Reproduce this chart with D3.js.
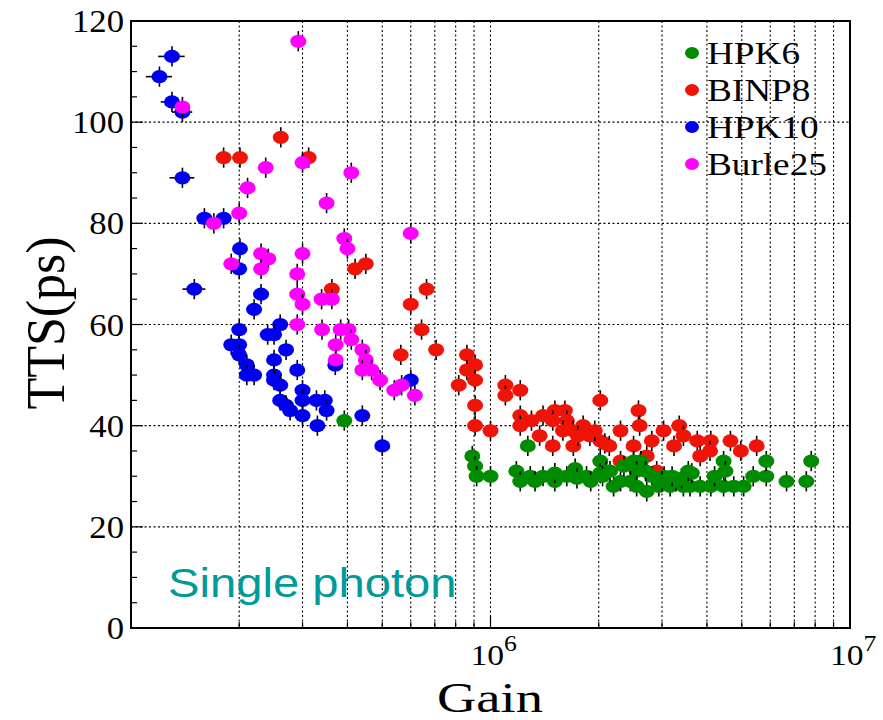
<!DOCTYPE html>
<html>
<head>
<meta charset="utf-8">
<script src="https://cdn.jsdelivr.net/npm/d3@7"></script>
<style>
  body { margin: 0; background: #fff; }
  svg { display: block; }
</style>
</head>
<body>
<svg id="chart" width="883" height="720"></svg>
<script>
// series data: [gain, TTS in ps, optional gain error]
var seriesNames = ["HPK6", "BINP8", "HPK10", "Burle25"];
var seriesColors = ["#008c00", "#f01408", "#0000f0", "#ff00ff"];

var hpk6 = [
  [3.92e5,41],[8.9e5,34],[9.06e5,32],[9.15e5,30],[1.0e6,30],[1.27e6,36],[1.18e6,31],[1.21e6,29],
  [1.29e6,30],[1.40e6,30],[1.51e6,29],[1.63e6,30],[1.72e6,31.5],[1.74e6,29.6],[1.85e6,30],[2.02e6,33],
  [2.02e6,30.6],[1.51e6,30.6],[2.1e6,31],[2.2e6,28],[2.3e6,29],[2.5e6,33],[2.62e6,33],[2.55e6,31],
  [2.45e6,29],[2.55e6,28],[2.72e6,27],[2.81e6,30],[2.94e6,28],[3.04e6,30],[3.44e6,28],[3.59e6,28],
  [3.83e6,28],[4.1e6,28],[4.45e6,28],[4.75e6,28],[5.06e6,28],[3.4e6,29.6],[3.63e6,30.6],[3.55e6,31],
  [4.45e6,33],[4.5e6,31],[4.2e6,30],[5.38e6,30],[5.85e6,30],[5.85e6,33],[6.66e6,29],[7.56e6,29],
  [7.8e6,33],[3.16e6,28],[3.28e6,29],[2.05e6,30],[2.15e6,31],[1.9e6,29],[1.33e6,29],[2.35e6,32],
  [2.7e6,31],[3.0e6,29],[3.2e6,30]
];
var binp8 = [
  [2.61e5,97],[1.81e5,93],[2.01e5,93],[3.12e5,93],[4.2e5,71],[4.5e5,72],[3.62e5,67],[6.64e5,67],
  [6.0e5,64],[6.43e5,59],[7.06e5,55],[5.63e5,54],[8.6e5,54],[9.06e5,52],[8.6e5,51],[9.06e5,49],
  [8.16e5,48],[9.06e5,44],[9.06e5,40],[1.0e6,39],[1.1e6,48],[1.1e6,46],[1.21e6,47],[2.02e6,45],
  [1.21e6,42],[1.21e6,40],[1.30e6,41],[1.40e6,42],[1.51e6,43],[1.61e6,43],[1.49e6,41],[1.63e6,41],
  [1.37e6,38],[1.49e6,36],[1.59e6,39],[1.70e6,39],[1.81e6,40],[1.70e6,36],[1.89e6,38],[2.02e6,37],
  [2.08e6,36.5],[2.14e6,36],[2.3e6,39],[2.58e6,43],[2.5e6,36],[2.3e6,33],[2.6e6,40],[3.03e6,39],
  [3.35e6,40],[3.44e6,38],[2.81e6,37],[3.76e6,37],[4.1e6,37],[4.65e6,37],[3.24e6,36],[4.08e6,35],
  [4.97e6,35],[5.5e6,36],[3.83e6,34],[2.72e6,34],[2.9e6,31],[1.75e6,38],[1.95e6,39]
];
var hpk10 = [
  [1.30e5,113,1.1e4],[1.20e5,109,1.0e4],[1.30e5,104,0.9e4],[1.39e5,102,0.9e4],[1.39e5,89,1.1e4],
  [1.50e5,67,1.1e4],[1.60e5,81],[1.81e5,81],[2.01e5,75],[2.0e5,71],[2.3e5,66],[2.2e5,63],[2.0e5,59],
  [2.6e5,60],[2.4e5,58],[2.5e5,58],[1.9e5,56],[2.0e5,56],[2.0e5,54],[2.1e5,52],[2.1e5,50],[2.2e5,50],
  [2.7e5,55],[2.5e5,53],[2.5e5,50],[2.5e5,49],[2.6e5,48],[2.9e5,51],[2.6e5,45],[2.7e5,44],[2.77e5,43],
  [3.0e5,47],[3.0e5,45],[3.0e5,42],[3.28e5,45],[3.46e5,45],[3.5e5,43],[3.3e5,40],[3.7e5,52],
  [4.4e5,42],[5.0e5,36],[6.0e5,49]
];
var burle25 = [
  [2.92e5,116],[1.39e5,103],[2.37e5,91],[3.0e5,92],[4.1e5,90],[2.11e5,87],[3.5e5,84],[2.0e5,82],
  [1.70e5,80],[3.92e5,77],[4.0e5,75],[6.0e5,78],[1.9e5,72],[2.3e5,74],[2.41e5,73],[2.3e5,71],
  [3.0e5,74],[2.9e5,70],[2.9e5,66],[3.0e5,64],[3.39e5,65],[3.62e5,65],[2.9e5,60],[3.4e5,59],
  [3.83e5,59],[4.03e5,59],[4.1e5,57],[3.71e5,56],[4.4e5,55],[4.5e5,53],[3.71e5,53],[4.4e5,51],
  [4.67e5,51],[4.93e5,49],[5.4e5,47],[5.66e5,48],[6.16e5,46]
];
var ttsErr = 2;
var yTicks = [0, 20, 40, 60, 80, 100, 120];
var xDecades = [1e6, 1e7];

// draw order: red, green, blue, magenta
var drawOrder = [1, 0, 2, 3];
var allSeries = [hpk6, binp8, hpk10, burle25];

var svg = d3.select("#chart");
var plotL = 131, plotR = 850, plotT = 21, plotB = 628;

var x = d3.scaleLog().domain([1e5, 1e7]).range([plotL, plotR]);
var y = d3.scaleLinear().domain([0, 120]).range([plotB, plotT]);

// grid
var grid = svg.append("g").attr("stroke", "#000").attr("stroke-width", 1.1)
  .attr("stroke-dasharray", "2,2.5");
var minorX = [];
[1e5, 1e6].forEach(function(dec) {
  for (var k = 2; k <= 10; k++) minorX.push(dec * k);
});
minorX = minorX.filter(function(v) { return v < 1e7; });
grid.selectAll(".gx").data(minorX).enter().append("line")
  .attr("x1", function(d) { return x(d); }).attr("x2", function(d) { return x(d); })
  .attr("y1", plotT).attr("y2", plotB);
grid.selectAll(".gy").data(yTicks.filter(function(d) { return d > 0 && d < 120; })).enter().append("line")
  .attr("x1", plotL).attr("x2", plotR)
  .attr("y1", function(d) { return y(d); }).attr("y2", function(d) { return y(d); });

// axis ticks (inward)
var ticks = svg.append("g").attr("stroke", "#000").attr("stroke-width", 1.2);
ticks.selectAll(".ty").data(d3.range(0, 121, 5)).enter().append("line")
  .attr("x1", plotL).attr("x2", function(d) { return plotL + (d % 20 === 0 ? 12 : 6); })
  .attr("y1", function(d) { return y(d); }).attr("y2", function(d) { return y(d); });
ticks.selectAll(".tx").data(minorX).enter().append("line")
  .attr("x1", function(d) { return x(d); }).attr("x2", function(d) { return x(d); })
  .attr("y1", plotB).attr("y2", function(d) { return plotB - (d === 1e6 ? 12 : 6); });

// points
var plot = svg.append("g");
drawOrder.forEach(function(si) {
  var g = plot.append("g");
  var pts = allSeries[si];
  pts.forEach(function(p) {
    var cx = x(p[0]), cy = y(p[1]);
    g.append("line").attr("x1", cx).attr("x2", cx)
      .attr("y1", y(p[1] - ttsErr)).attr("y2", y(p[1] + ttsErr))
      .attr("stroke", "#000").attr("stroke-width", 1.6);
    if (p[2]) {
      g.append("line").attr("x1", x(p[0] - p[2])).attr("x2", x(p[0] + p[2]))
        .attr("y1", cy).attr("y2", cy)
        .attr("stroke", "#000").attr("stroke-width", 1.6);
    }
    g.append("ellipse").attr("cx", cx).attr("cy", cy).attr("rx", 8).attr("ry", 6.6)
      .attr("fill", seriesColors[si]);
  });
});

// frame
svg.append("rect").attr("x", plotL).attr("y", plotT)
  .attr("width", plotR - plotL).attr("height", plotB - plotT)
  .attr("fill", "none").attr("stroke", "#000").attr("stroke-width", 2);

var serif = "'Liberation Serif', 'Times New Roman', serif";

// y tick labels
svg.selectAll(".yl").data(yTicks).enter().append("text")
  .attr("transform", function(d) { return "translate(124," + (y(d) + 11) + ") scale(1.12,1)"; })
  .attr("text-anchor", "end").attr("font-family", serif).attr("font-size", 31)
  .text(function(d) { return d; });

// x tick labels 10^n
var xl = svg.selectAll(".xl").data(xDecades).enter().append("text")
  .attr("transform", function(d) { return "translate(" + (x(d) - 20) + ",665) scale(1.12,1)"; })
  .attr("font-family", serif).attr("font-size", 30);
xl.append("tspan").text("10");
xl.append("tspan").attr("dy", -14).attr("font-size", 23)
  .text(function(d) { return Math.round(Math.log10(d)); });

// axis titles
svg.append("text")
  .attr("transform", "translate(490,712) scale(1.3,1)")
  .attr("text-anchor", "middle").attr("font-family", serif).attr("font-size", 42)
  .text("Gain");
svg.append("text")
  .attr("transform", "translate(64,323) scale(1.05,1) rotate(-90)")
  .attr("text-anchor", "middle").attr("font-family", serif).attr("font-size", 52)
  .text("TTS(ps)");

// legend
var legend = svg.append("g");
seriesNames.forEach(function(name, i) {
  var ly = 53 + i * 37;
  legend.append("ellipse").attr("cx", 692).attr("cy", ly).attr("rx", 7).attr("ry", 6)
    .attr("fill", seriesColors[i]);
  legend.append("text").attr("transform", "translate(707," + (ly + 11) + ") scale(1.2,1)")
    .attr("font-family", serif).attr("font-size", 31).text(name);
});

// annotation
svg.append("text")
  .attr("transform", "translate(168,597) scale(1.18,1)")
  .attr("font-family", "'Liberation Sans', Arial, sans-serif").attr("font-size", 40)
  .attr("fill", "#009a9a")
  .text("Single photon");
</script>
</body>
</html>
